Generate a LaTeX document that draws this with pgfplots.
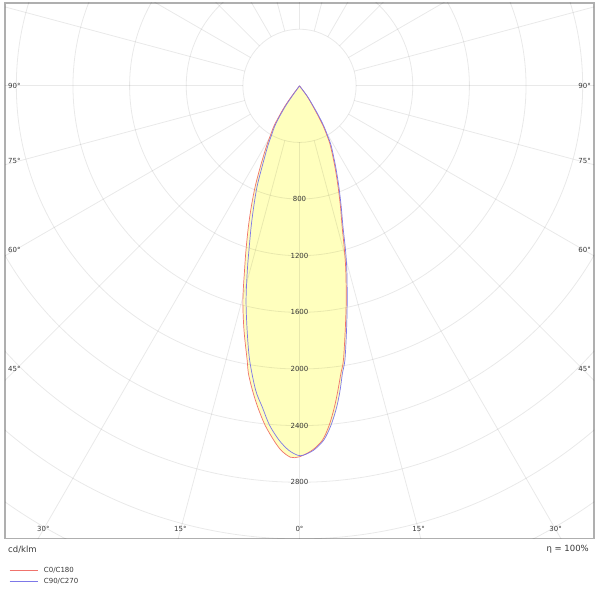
\documentclass[border=0pt]{standalone}
\usepackage{pgfplots}
\pgfplotsset{compat=1.18}
\usepackage{pgfplotstable}
\usepackage{fontspec}
\setmainfont{DejaVu Sans}

\definecolor{cred}{RGB}{240,115,108}
\definecolor{cblue}{RGB}{125,120,232}
\definecolor{lyellow}{RGB}{255,255,190}
\definecolor{txt}{RGB}{55,55,55}
\definecolor{frame}{RGB}{175,175,175}

% gamma (deg, + to the right of nadir), intensity (cd/klm)
\pgfplotstableread{
g I
-38 0
-37.0 90
-35.7 176
-33.9 257
-32.4 336
-30.3 411
-28.7 485
-25.9 630
-23.8 774
-21.8 915
-20.0 1054
-18.05 1220
-16.6 1359
-14.8 1566
-12.8 1770
-10.8 1973
-10.1 2061
-8.8 2175
-7.4 2289
-5.8 2409
-4.15 2510
-2.9 2577
-1.4 2624
0 2620
2.0 2575
3.7 2508
5.0 2406
6.2 2283
7.2 2167
8.2 2051
9.1 1962
10.6 1756
12.3 1550
14.1 1342
15.3 1203
16.9 1035
18.8 897
21.0 759
23.75 619
27.25 478
28.9 405
30.5 330
31.8 251
33.4 171
36.3 89
38 0
}\tabred

\pgfplotstableread{
g I
-38 0
-35.6 89
-34.7 174
-33.1 255
-31.6 333
-29.4 407
-27.8 481
-24.9 625
-22.9 769
-20.8 909
-19.0 1048
-17.1 1214
-15.8 1353
-14.0 1560
-12.1 1765
-10.3 1970
-8.2 2172
-6.6 2285
-5.05 2406
-3.3 2507
-1.7 2575
-0.3 2609
0.6 2609
2.2 2576
3.9 2509
5.3 2408
6.6 2285
7.6 2169
8.5 2052
9.4 1964
10.9 1757
12.55 1551
14.4 1344
15.65 1205
17.2 1037
19.1 899
21.4 761
24.2 621
27.8 481
29.4 407
31.15 332
32.6 253
34.15 172
37.0 90
38 0
}\tabblue

\begin{document}
\begin{tikzpicture}
\begin{axis}[
  name=ax,
  x=0.1415pt, y=0.1415pt,
  xmin=-2080, xmax=2080,
  ymin=-3195, ymax=585,
  xtick=\empty, ytick=\empty,
  axis line style={frame, line width=1.2pt},
  legend style={at={(axis description cs:0,0)}, anchor=north west,
    xshift=4pt, yshift=-27pt, draw=none, fill=none, inner sep=0pt,
    row sep=1pt, column sep=5pt,
    nodes={inner sep=1pt, text=txt, text height=6pt, text depth=2pt,
      font=\fontsize{7}{8}\selectfont}},
  legend cell align=left,
  legend image code/.code={\draw[#1] (0pt,0pt) -- (28pt,0pt);},
]
  % filled area
  \addplot[smooth, draw=none, fill=lyellow, forget plot]
    table[x expr={\thisrow{I}*sin(\thisrow{g})}, y expr={-\thisrow{I}*cos(\thisrow{g})}] {\tabred};
  \addplot[smooth, draw=none, fill=lyellow, forget plot]
    table[x expr={\thisrow{I}*sin(\thisrow{g})}, y expr={-\thisrow{I}*cos(\thisrow{g})}] {\tabblue};

  % polar grid
  \pgfplotsinvokeforeach{400,800,...,4400}{
    \draw[black, opacity=0.085, line width=0.8pt] (axis cs:0,0) circle[radius=#1];
  }
  \pgfplotsinvokeforeach{0,15,...,345}{
    \draw[black, opacity=0.085, line width=0.8pt]
      (axis cs:{400*cos(#1)},{400*sin(#1)}) -- (axis cs:{5000*cos(#1)},{5000*sin(#1)});
  }

  \addplot[smooth, cred, line width=0.7pt]
    table[x expr={\thisrow{I}*sin(\thisrow{g})}, y expr={-\thisrow{I}*cos(\thisrow{g})}] {\tabred};
  \addlegendentry{C0/C180}
  \addplot[smooth, cblue, line width=0.7pt]
    table[x expr={\thisrow{I}*sin(\thisrow{g})}, y expr={-\thisrow{I}*cos(\thisrow{g})}] {\tabblue};
  \addlegendentry{C90/C270}

  % intensity labels
  \pgfplotsinvokeforeach{800,1200,...,2800}{
    \node[txt, font=\fontsize{7}{8}\selectfont] at (axis cs:0,-#1) {#1};
  }
  % angle labels
  \node[txt, font=\fontsize{7}{8}\selectfont] at (axis cs:-2014,0) {90°};
  \node[txt, font=\fontsize{7}{8}\selectfont] at (axis cs:-2014,-531) {75°};
  \node[txt, font=\fontsize{7}{8}\selectfont] at (axis cs:-2014,-1160) {60°};
  \node[txt, font=\fontsize{7}{8}\selectfont] at (axis cs:-2014,-2001) {45°};
  \node[txt, font=\fontsize{7}{8}\selectfont] at (axis cs:2014,0) {90°};
  \node[txt, font=\fontsize{7}{8}\selectfont] at (axis cs:2014,-531) {75°};
  \node[txt, font=\fontsize{7}{8}\selectfont] at (axis cs:2014,-1160) {60°};
  \node[txt, font=\fontsize{7}{8}\selectfont] at (axis cs:2014,-2001) {45°};
  \node[txt, font=\fontsize{7}{8}\selectfont] at (axis cs:-1809,-3132) {30°};
  \node[txt, font=\fontsize{7}{8}\selectfont] at (axis cs:-841,-3132) {15°};
  \node[txt, font=\fontsize{7}{8}\selectfont] at (axis cs:0,-3132) {0°};
  \node[txt, font=\fontsize{7}{8}\selectfont] at (axis cs:841,-3132) {15°};
  \node[txt, font=\fontsize{7}{8}\selectfont] at (axis cs:1809,-3132) {30°};
\end{axis}
\node[txt, anchor=west, inner sep=0pt, font=\fontsize{8.5}{10}\selectfont]
  at ([xshift=3pt, yshift=-11pt]ax.south west) {cd/klm};
\node[txt, anchor=east, inner sep=0pt, font=\fontsize{8.5}{10}\selectfont]
  at ([xshift=-5pt, yshift=-11pt]ax.south east) {η = 100\%};
\pgfresetboundingbox
\path ([xshift=-5pt, yshift=-51pt]ax.south west) rectangle ([xshift=6pt, yshift=3pt]ax.north east);
\end{tikzpicture}
\end{document}
